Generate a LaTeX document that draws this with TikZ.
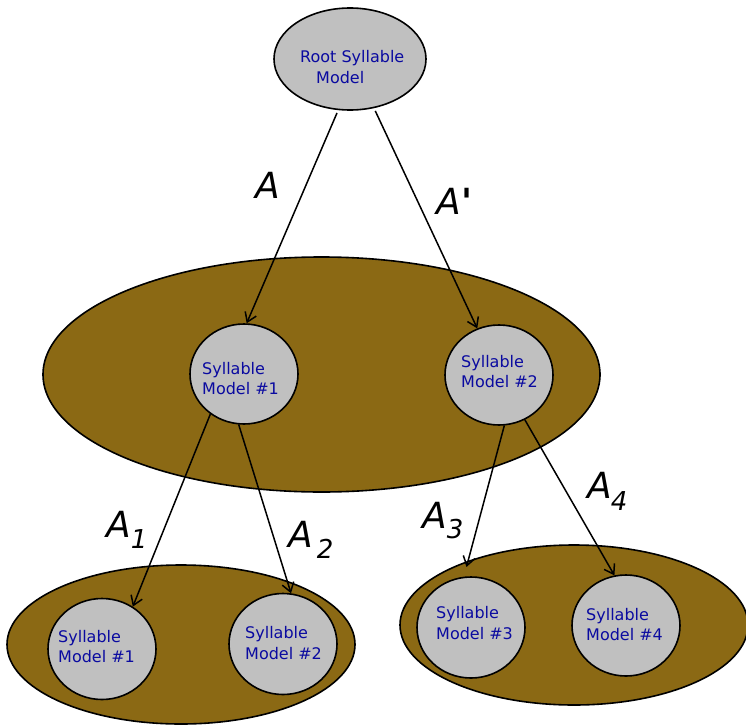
\documentclass[tikz,border=0pt]{standalone}
\usepackage{fontspec}
\setmainfont{DejaVu Sans}
\newfontfamily\aposfont{DejaVu Sans}[Ligatures=TeXOff]
\usetikzlibrary{arrows.meta,shapes.geometric}
\definecolor{brownfill}{RGB}{139,105,20}
\definecolor{greyfill}{RGB}{192,192,192}
\definecolor{txtblue}{RGB}{10,10,160}
\begin{document}
\begin{tikzpicture}[x=1pt,y=-1pt,
  grp/.style={ellipse,draw=black,line width=1.6pt,fill=brownfill,inner sep=0pt},
  mdl/.style={ellipse,draw=black,line width=1.6pt,fill=greyfill,inner sep=0pt,minimum width=108pt,minimum height=101pt},
  txt/.style={anchor=base west,inner sep=0pt,text=txtblue,font=\fontsize{16}{18}\selectfont},
  lbl/.style={anchor=base west,inner sep=0pt,font=\fontsize{36}{40}\selectfont\itshape},
  arr/.style={-{Straight Barb[length=9pt,width=12pt]},line width=1.5pt,shorten <=3pt}
]
\useasboundingbox (0,0) rectangle (746,725);
% containers
\node[grp,minimum width=557pt,minimum height=235pt] (mid) at (321.5,374.5) {};
\node[grp,minimum width=348pt,minimum height=159pt] (bl) at (181,644.5) {};
\node[grp,minimum width=348pt,minimum height=160pt] (br) at (574,625) {};
% models
\node[mdl,minimum width=152pt,minimum height=102pt] (root) at (350,59) {};
\node[mdl,minimum height=100pt] (m1) at (244,374) {};
\node[mdl,minimum height=100pt] (m2) at (499,375) {};
\node[mdl] (b1) at (102,649) {};
\node[mdl] (b2) at (283,644) {};
\node[mdl] (b3) at (471,627.5) {};
\node[mdl] (b4) at (626,625.5) {};
% texts
\node[txt] (t0a) at (300,63) {Root Syllable};
\node[txt] (t0b) at (316,83) {Model};
\node[txt] (t1a) at (202,374) {Syllable};
\node[txt] (t1b) at (202,394) {Model \#1};
\node[txt] (t2a) at (461,367) {Syllable};
\node[txt] (t2b) at (461,387) {Model \#2};
\node[txt] (t3a) at (58,642) {Syllable};
\node[txt] (t3b) at (58,662) {Model \#1};
\node[txt] (t4a) at (245,638) {Syllable};
\node[txt] (t4b) at (245,659) {Model \#2};
\node[txt] (t5a) at (436,618) {Syllable};
\node[txt] (t5b) at (436,639) {Model \#3};
\node[txt] (t6a) at (586,620) {Syllable};
\node[txt] (t6b) at (586,640) {Model \#4};
% arrows
\draw[arr] (root.-103) -- (m1.87);
\draw[arr] (root.-64) -- (m2.115);
\draw[arr,shorten <=0pt] (m1.-130) -- (b1.54);
\draw[arr,shorten <=0pt] (m1.-96) -- (b2.81);
\draw[arr,shorten <=0pt,shorten >=10pt] (m2.-84) -- (b3.98);
\draw[arr,shorten <=0pt] (m2.-60) -- (b4.103);
% labels
\node[lbl] (la) at (255,198) {A};
\node[lbl] (lap) at (436,214) {A\hspace{1pt}{\aposfont\upshape\bfseries '}};
\node[lbl] (l1) at (106,537) {A\raisebox{-11pt}{\fontsize{26}{28}\selectfont 1}};
\node[lbl] (l2) at (288,547) {A\hspace{4pt}\raisebox{-11pt}{\fontsize{26}{28}\selectfont 2}};
\node[lbl] (l3) at (422,528) {A\raisebox{-10pt}{\fontsize{26}{28}\selectfont 3}};
\node[lbl] (l4) at (587,498) {A\hspace{-1pt}\raisebox{-12pt}{\fontsize{26}{28}\selectfont 4}};
\end{tikzpicture}
\end{document}
